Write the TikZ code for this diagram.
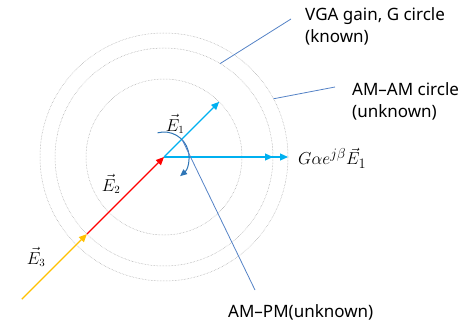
\documentclass[tikz,border=0pt]{standalone}
\usepackage{fontspec}
\setmainfont{Noto Sans}
\usepackage{tikz}
\usetikzlibrary{arrows.meta, calc}

\definecolor{vecblue}{RGB}{0,176,240}
\definecolor{vecred}{RGB}{255,0,0}
\definecolor{vecyellow}{RGB}{255,192,0}
\definecolor{callblue}{RGB}{84,130,198}
\definecolor{arcblue}{RGB}{46,117,182}

\begin{document}
\begin{tikzpicture}[
    x=1pt, y=1pt,
    every node/.style={font=\fontsize{17}{22}\selectfont},
    ring/.style={densely dotted, gray!75, line width=0.5pt},
    vec/.style={line width=1.2pt, -{Triangle[length=8pt, width=7pt]}},
    callout/.style={draw=callblue, line width=0.8pt},
    lbl/.style={inner sep=0pt, align=left},
    mlbl/.style={inner sep=0pt, font=\fontsize{16}{18}\selectfont}
  ]

  \useasboundingbox (0,0) rectangle (473,324);
  \coordinate (o) at (164,167);

  % circles
  \draw[ring] (o) circle (78pt);
  \draw[ring] (o) circle (109pt);
  \draw[ring] (o) circle (124pt);

  \coordinate (e1) at ($(o)+(45:78pt)$);
  \coordinate (g1) at ($(o)+(0:109pt)$);
  \coordinate (g2) at ($(o)+(0:124pt)$);
  \coordinate (e2) at ($(o)+(225:109pt)$);
  \coordinate (e3) at ($(o)+(225:201pt)$);

  % vectors
  \draw[vec, vecyellow] (e3) -- (e2);
  \draw[vec, vecred] (e2) -- (o);
  \draw[vec, vecblue] (o) -- (g2);
  \draw[vec, vecblue] (o) -- (g1);
  \draw[vec, vecblue] (o) -- (e1);

  % phase rotation
  \coordinate (phs) at ($(o)+(105:25pt)$);
  \draw[arcblue, line width=1pt, -{Triangle[length=7pt, width=6pt]}]
    (phs) arc[start angle=105, end angle=-50, radius=25pt];

  \node[mlbl] (le1) at (175,200) {$\vec{E}_1$};
  \node[mlbl] (le2) at (111,140) {$\vec{E}_2$};
  \node[mlbl] (le3) at (36,67) {$\vec{E}_3$};
  \node[mlbl, anchor=base west, font=\fontsize{19}{22}\selectfont] (gain) at (298,159)
    {$G\alpha e^{j\beta}\vec{E}_1$};

  \node[lbl, anchor=north west] (vga) at (305,317) {VGA gain, G circle\\(known)};
  \node[lbl, anchor=north west] (amam) at (352,242) {AM--AM circle\\(unknown)};
  \node[lbl, anchor=base west] (ampm) at (228,7) {AM--PM(unknown)};

  % callouts
  \coordinate (vgap) at ($(o)+(59:109pt)$);
  \coordinate (amamp) at ($(o)+(28:124pt)$);
  \coordinate (ampmp) at ($(o)+(43:25pt)$);
  \coordinate (vgaend) at (291,305);
  \coordinate (amamend) at (335,237);
  \coordinate (ampmend) at (255,34);
  \draw[callout] (vgap) -- (vgaend);
  \draw[callout] (amamp) -- (amamend);
  \draw[callout] (ampmp) -- (ampmend);

\end{tikzpicture}
\end{document}
